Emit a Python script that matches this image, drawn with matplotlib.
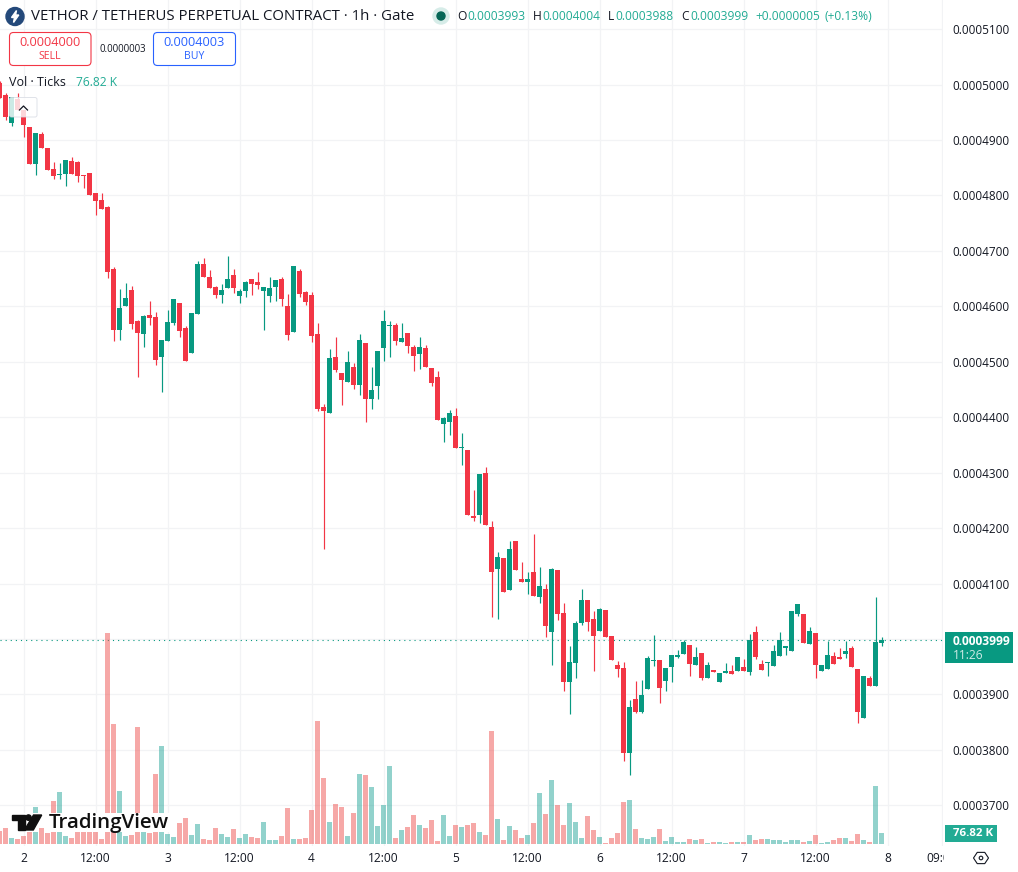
import numpy as np
import matplotlib
matplotlib.use('Agg')
import matplotlib.pyplot as plt
from matplotlib.patches import FancyBboxPatch, Rectangle, Circle, Polygon
from matplotlib.transforms import Bbox

plt.rcParams['font.family'] = ['Open Sans', 'DejaVu Sans']

# precos em unidades de 1e-7, uma vela por hora (0 = dia 2 00:00)
abertura = [5003, 4981, 4931, 4974, 4954, 4923, 4857, 4911, 4886, 4848,
            4837, 4839, 4862, 4860, 4837, 4840, 4804, 4792, 4779, 4667,
            4557, 4601, 4629, 4573, 4550, 4584, 4581, 4509, 4537, 4570,
            4606, 4561, 4516, 4586, 4676, 4653, 4635, 4620, 4633, 4656,
            4619, 4628, 4649, 4644, 4628, 4619, 4635, 4649, 4601, 4554,
            4664, 4626, 4620, 4550, 4418, 4408, 4509, 4480, 4464, 4491,
            4458, 4534, 4433, 4456, 4525, 4564, 4566, 4536, 4552, 4527,
            4514, 4525, 4489, 4473, 4388, 4391, 4402, 4345, 4341, 4222,
            4224, 4299, 4202, 4126, 4146, 4088, 4177, 4108, 4103, 4121,
            4076, 4090, 4013, 4124, 4047, 3923, 3957, 4029, 4070, 4036,
            4014, 4052, 4005, 3953, 3948, 3794, 3892, 3868, 3910, 3960,
            3962, 3924, 3950, 3968, 3973, 3989, 3953, 3975, 3930, 3944,
            3923, 3939, 3942, 3942, 3950, 3941, 4013, 3955, 3957, 3951,
            3969, 3984, 3978, 4045, 4045, 3991, 4011, 3942, 3946, 3969,
            3968, 3973, 3984, 3946, 3858, 3930, 3915, 3993]
fecho = [4976, 4942, 4977, 4954, 4927, 4857, 4913, 4886, 4846, 4835,
         4839, 4864, 4839, 4835, 4835, 4801, 4790, 4775, 4662, 4557,
         4597, 4615, 4568, 4552, 4583, 4579, 4503, 4539, 4572, 4613,
         4555, 4501, 4588, 4676, 4653, 4633, 4620, 4629, 4649, 4633,
         4628, 4644, 4640, 4638, 4635, 4633, 4647, 4613, 4548, 4673,
         4622, 4608, 4546, 4415, 4411, 4507, 4485, 4467, 4500, 4458,
         4539, 4433, 4449, 4519, 4573, 4566, 4537, 4543, 4528, 4510,
         4527, 4491, 4462, 4395, 4399, 4408, 4345, 4347, 4224, 4218,
         4298, 4206, 4121, 4148, 4085, 4162, 4124, 4103, 4108, 4078,
         4096, 4023, 4126, 4045, 3923, 3959, 4029, 4070, 4031, 4005,
         4054, 4004, 3962, 3946, 3794, 3877, 3868, 3899, 3966, 3962,
         3912, 3948, 3971, 3971, 3995, 3955, 3968, 3930, 3953, 3941,
         3939, 3942, 3937, 3968, 3942, 3998, 3968, 3944, 3959, 3978,
         3998, 3987, 4051, 4063, 3993, 4014, 3953, 3953, 3971, 3955,
         3964, 3978, 3950, 3868, 3933, 3915, 3995, 3999]
maximo = [5006, 4985, 4977, 4984, 4954, 4923, 4913, 4914, 4886, 4860,
          4858, 4864, 4869, 4862, 4837, 4840, 4804, 4804, 4781, 4671,
          4631, 4642, 4637, 4575, 4584, 4610, 4590, 4539, 4593, 4613,
          4606, 4564, 4588, 4682, 4687, 4665, 4637, 4640, 4691, 4667,
          4631, 4646, 4649, 4662, 4635, 4653, 4647, 4653, 4622, 4673,
          4667, 4628, 4626, 4570, 4424, 4523, 4545, 4480, 4519, 4498,
          4550, 4534, 4491, 4519, 4593, 4573, 4570, 4570, 4552, 4530,
          4545, 4530, 4489, 4483, 4401, 4413, 4417, 4372, 4341, 4269,
          4298, 4310, 4213, 4157, 4146, 4177, 4177, 4139, 4121, 4189,
          4130, 4099, 4128, 4124, 4065, 3987, 4033, 4090, 4070, 4051,
          4056, 4052, 4005, 3960, 3959, 3890, 3924, 3926, 3969, 4007,
          3962, 3948, 3971, 3980, 3998, 3989, 3986, 3975, 3959, 3944,
          3939, 3957, 3953, 3968, 3964, 4009, 4023, 3962, 3959, 3989,
          4013, 3987, 4051, 4063, 4045, 4022, 4011, 3953, 3996, 3977,
          3984, 3996, 3987, 3946, 3933, 3933, 4076, 4004]
minimo = [4976, 4936, 4926, 4954, 4906, 4857, 4837, 4886, 4846, 4830,
          4830, 4817, 4839, 4824, 4813, 4801, 4765, 4775, 4651, 4537,
          4539, 4601, 4559, 4473, 4527, 4566, 4494, 4445, 4537, 4566,
          4545, 4501, 4516, 4586, 4653, 4633, 4615, 4606, 4633, 4624,
          4606, 4617, 4620, 4631, 4557, 4608, 4610, 4601, 4539, 4554,
          4617, 4602, 4536, 4411, 4162, 4408, 4481, 4422, 4464, 4451,
          4440, 4391, 4415, 4433, 4501, 4509, 4530, 4536, 4516, 4483,
          4487, 4491, 4456, 4395, 4355, 4368, 4345, 4314, 4224, 4213,
          4209, 4206, 4040, 4036, 4085, 4088, 4124, 4103, 4081, 4078,
          4065, 4004, 3953, 4034, 3906, 3865, 3930, 4025, 4014, 3942,
          4014, 4004, 3962, 3931, 3780, 3755, 3867, 3867, 3910, 3951,
          3885, 3906, 3923, 3966, 3973, 3933, 3953, 3926, 3930, 3941,
          3923, 3939, 3937, 3942, 3942, 3935, 3964, 3944, 3933, 3951,
          3969, 3971, 3978, 4041, 3993, 3991, 3930, 3942, 3946, 3955,
          3964, 3966, 3950, 3849, 3858, 3915, 3915, 3988]
# volume em milhares de ticks
volume = [91, 112, 42, 35, 56, 84, 259, 112, 77, 301,
          364, 56, 42, 84, 84, 84, 84, 35, 1477, 840,
          371, 56, 63, 819, 91, 77, 490, 686, 70, 49,
          147, 182, 63, 140, 35, 28, 112, 70, 49, 105,
          42, 70, 49, 42, 154, 28, 28, 56, 252, 35,
          35, 42, 238, 861, 462, 154, 280, 259, 56, 217,
          490, 483, 399, 126, 273, 546, 42, 98, 119, 203,
          133, 112, 168, 21, 203, 56, 133, 119, 133, 147,
          84, 63, 791, 175, 28, 126, 98, 42, 63, 147,
          357, 210, 448, 273, 133, 287, 154, 42, 196, 98,
          49, 7, 42, 77, 294, 308, 105, 42, 35, 49,
          105, 21, 49, 14, 14, 35, 28, 35, 7, 14,
          14, 7, 14, 14, 14, 63, 28, 35, 35, 28,
          28, 14, 28, 28, 14, 21, 63, 7, 14, 28,
          42, 42, 21, 70, 28, 14, 406, 76.82]

horas = np.arange(-4, 144)
ticks_tempo = [0, 12, 24, 36, 48, 60, 72, 84, 96, 108, 120, 132, 144, 153]
rotulos_tempo = ['2', '12:00', '3', '12:00', '4', '12:00', '5', '12:00',
                 '6', '12:00', '7', '12:00', '8', '09:00']
ticks_preco = [3700, 3800, 3900, 4000, 4100, 4200, 4300, 4400, 4500, 4600,
               4700, 4800, 4900, 5000, 5100]
ultimo_preco = 3999

VERDE = '#089981'
VERMELHO = '#f23645'
TEXTO = '#131722'
GRADE = '#f2f3f5'
W, H = 1018, 872


def fs(px):
    # tamanho da fonte em pixels, figura a 100 dpi
    return px * 0.72


abertura = np.array(abertura) * 1e-7
fecho = np.array(fecho) * 1e-7
maximo = np.array(maximo) * 1e-7
minimo = np.array(minimo) * 1e-7
subiu = fecho >= abertura
cores = np.where(subiu, VERDE, VERMELHO)

fig = plt.figure(figsize=(W / 100, H / 100), dpi=100, facecolor='white')

# painel de precos
ax = fig.add_axes([0, 1 - 846 / H, 943 / W, 846 / H], zorder=1)
ax.set_xlim(-3.92, 153.25)
ax.set_ylim(3626.7e-7, 5152.4e-7)
ax.vlines(horas, minimo, maximo, colors=cores, linewidth=0.85, zorder=3)
ax.bar(horas, np.abs(fecho - abertura), bottom=np.minimum(abertura, fecho),
       width=0.8, color=cores, linewidth=0, zorder=4)
ax.axhline(ultimo_preco * 1e-7, color=VERDE, linewidth=0.8,
           linestyle=(0, (1, 3.6)), zorder=2)

ax.set_xticks(ticks_tempo)
ax.set_xticklabels(rotulos_tempo)
ax.set_yticks(np.array(ticks_preco) * 1e-7)
ax.set_yticklabels(['%.7f' % (p * 1e-7) for p in ticks_preco])
ax.yaxis.tick_right()
ax.tick_params(axis='x', length=0, pad=4.2, labelsize=fs(12), labelcolor=TEXTO)
ax.tick_params(axis='y', length=0, pad=6.8, labelsize=fs(11.8), labelcolor=TEXTO)
ax.grid(True, color=GRADE, linewidth=0.9)
ax.set_axisbelow(True)
for lado in ax.spines.values():
    lado.set_visible(False)
# o ultimo rotulo de tempo e cortado na borda da escala de precos
ax.get_xticklabels()[-1].set_clip_on(True)
ax.get_xticklabels()[-1].set_clip_box(Bbox([[0, 0], [944, H]]))

# painel de volume sobreposto, base em y = 844 px, 7 mil por pixel
ax_vol = fig.add_axes([0, 1 - 846 / H, 943 / W, 846 / H], zorder=2)
ax_vol.patch.set_alpha(0)
ax_vol.set_xlim(ax.get_xlim())
ax_vol.set_ylim(-14, 844 * 7)
cores_vol = np.where(subiu, '#26a69a', '#ef5350')
ax_vol.bar(horas, volume, width=0.8, color=cores_vol, alpha=0.5, linewidth=0)
ax_vol.axis('off')

# camada em pixels para cabecalho, etiquetas e logotipo
cam = fig.add_axes([0, 0, 1, 1], zorder=3)
cam.patch.set_alpha(0)
cam.set_xlim(0, W)
cam.set_ylim(H, 0)
cam.axis('off')


def texto(x, y, s, cor=TEXTO, px=12, ha='left', peso='normal', alpha=1):
    return cam.text(x, y, s, color=cor, fontsize=fs(px), ha=ha, va='center',
                    fontweight=peso, alpha=alpha)


# logotipo e titulo
cam.add_patch(Circle((15, 16.5), 9, color='#24497a'))
cam.add_patch(Polygon([(16.5, 10.5), (11.5, 17.5), (14.5, 17.5), (13.5, 22.5),
                       (18.8, 15), (15.6, 15)], color='white'))
texto(31, 16.5, 'VETHOR / TETHERUS PERPETUAL CONTRACT · 1h · Gate', px=15)
cam.add_patch(Circle((441, 16), 8, color='#d6ece8'))
cam.add_patch(Circle((441, 16), 4, color='#056656'))

# valores OHLC da ultima vela
VERDE_TXT = '#22ab94'
for x0, letra, x1, valor in [(457, 'O', 467, '0.0003993'), (533, 'H', 542.5, '0.0004004'),
                             (608, 'L', 615, '0.0003988'), (681, 'C', 690, '0.0003999')]:
    texto(x0, 16.5, letra, px=12)
    texto(x1, 16.5, valor, cor=VERDE_TXT, px=12)
texto(755, 16.5, '+0.0000005', cor=VERDE_TXT, px=12)
texto(825, 16.5, '(+0.13%)', cor=VERDE_TXT, px=12)

# botoes de venda e compra
cam.add_patch(FancyBboxPatch((9.5, 32.5), 81.5, 33, boxstyle='round,pad=0,rounding_size=4',
                             fc='white', ec=VERMELHO, lw=0.8))
cam.add_patch(FancyBboxPatch((153.5, 32.5), 82, 33, boxstyle='round,pad=0,rounding_size=4',
                             fc='white', ec='#2962ff', lw=0.8))
texto(50.3, 42, '0.0004000', cor=VERMELHO, px=12.8, ha='center')
texto(50, 56.5, 'SELL', cor=VERMELHO, px=10.5, ha='center')
texto(122.5, 49, '0.0000003', px=9.7, ha='center')
texto(194.5, 42, '0.0004003', cor='#2962ff', px=12.8, ha='center')
texto(194.5, 56.5, 'BUY', cor='#2962ff', px=10.5, ha='center')

# legenda do volume e botao de recolher
texto(9, 82.5, 'Vol · Ticks', px=12.5)
texto(76, 82.5, '76.82 K', cor=VERDE_TXT, px=12)
cam.add_patch(FancyBboxPatch((9.5, 97.5), 27.5, 19.5, boxstyle='round,pad=0,rounding_size=2',
                             fc='white', ec='#d8dbe3', lw=0.7, alpha=0.8))
cam.plot([19.5, 23.5, 27.5], [110, 106, 110], color=TEXTO, lw=0.9)

# etiquetas da escala de precos
cam.add_patch(Rectangle((945, 632), 68, 31, color=VERDE, lw=0))
texto(953, 641, '0.0003999', cor='white', px=12, peso='bold')
texto(953, 655, '11:26', cor='white', px=12, alpha=0.8)
cam.add_patch(Rectangle((945, 825), 52, 17, color='#22ab94', lw=0))
texto(953, 833.5, '76.82 K', cor='white', px=11.5, peso='bold')

# icone de configuracao do eixo
ang = np.deg2rad(np.arange(0, 360, 60))
cam.add_patch(Polygon(np.c_[981 + 7.5 * np.cos(ang), 858 + 6.5 * np.sin(ang)], fc='none',
                      ec=TEXTO, lw=0.8))
cam.add_patch(Circle((981, 858), 1.8, fc='none', ec=TEXTO, lw=0.8))

# marca d'agua
cam.add_patch(Rectangle((10, 813), 28.5, 19, color='white', lw=0))
cam.add_patch(Rectangle((44.5, 813), 127.5, 19, color='white', lw=0))
cam.add_patch(Polygon([(12, 815), (25, 815), (25, 830), (18, 830), (18, 820), (12, 820)],
                      color='#0f0f0f'))
cam.add_patch(Circle((28.5, 817.6), 2.7, color='#0f0f0f'))
cam.add_patch(Polygon([(33.5, 815), (41.7, 815), (33.3, 830), (24.5, 830)], color='#0f0f0f'))
texto(48.5, 823, 'TradingView', cor='#0f0f0f', px=20.5, peso='semibold')

fig.savefig('out.png', dpi=100)
